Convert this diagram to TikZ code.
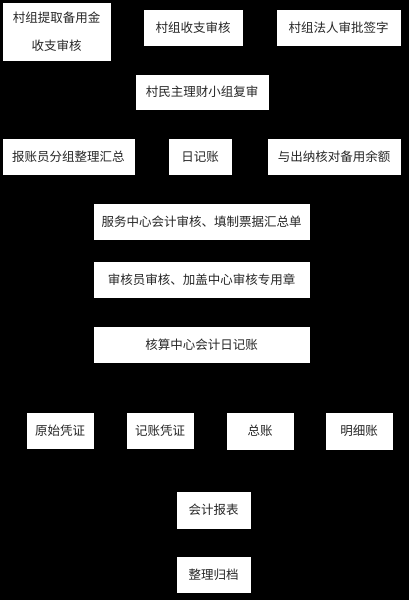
\documentclass[tikz,border=0pt]{standalone}
\usepackage{fontspec}
\setmainfont{Noto Sans CJK SC}
\begin{document}
\begin{tikzpicture}[x=1pt,y=-1pt,
  box/.style={draw=white,fill=white,inner sep=0pt,text=black!85,font=\fontsize{12.5}{28}\selectfont,align=center}]
\fill[black] (0,0) rectangle (409,600);
\useasboundingbox (0,0) rectangle (409,600);
\node[box,minimum width=107pt,minimum height=57pt] (b1) at (56.5,31.5) {村组提取备用金\\收支审核};
\node[box,minimum width=98pt,minimum height=35pt] (b2) at (193,27.5) {村组收支审核};
\node[box,minimum width=123pt,minimum height=35pt] (b3) at (338.5,27.5) {村组法人审批签字};
\node[box,minimum width=132pt,minimum height=34pt] (b4) at (202,92) {村民主理财小组复审};
\node[box,minimum width=131pt,minimum height=35pt] (b5) at (68.5,156.5) {报账员分组整理汇总};
\node[box,minimum width=62pt,minimum height=35pt] (b6) at (200,156.5) {日记账};
\node[box,minimum width=132pt,minimum height=35pt] (b7) at (334,156.5) {与出纳核对备用余额};
\node[box,minimum width=215pt,minimum height=35pt] (b8) at (201.5,221.5) {服务中心会计审核、填制票据汇总单};
\node[box,minimum width=215pt,minimum height=35pt] (b9) at (201.5,279.5) {审核员审核、加盖中心审核专用章};
\node[box,minimum width=215pt,minimum height=35pt] (b10) at (201.5,344.5) {核算中心会计日记账};
\node[box,minimum width=66pt,minimum height=35pt] (b11) at (60,430.5) {原始凭证};
\node[box,minimum width=66pt,minimum height=35pt] (b12) at (160,430.5) {记账凭证};
\node[box,minimum width=66pt,minimum height=36pt] (b13) at (260,431) {总账};
\node[box,minimum width=66pt,minimum height=36pt] (b14) at (359,431) {明细账};
\node[box,minimum width=73pt,minimum height=36pt] (b15) at (213.5,510) {会计报表};
\node[box,minimum width=73pt,minimum height=35pt] (b16) at (213.5,574.5) {整理归档};
\end{tikzpicture}
\end{document}
